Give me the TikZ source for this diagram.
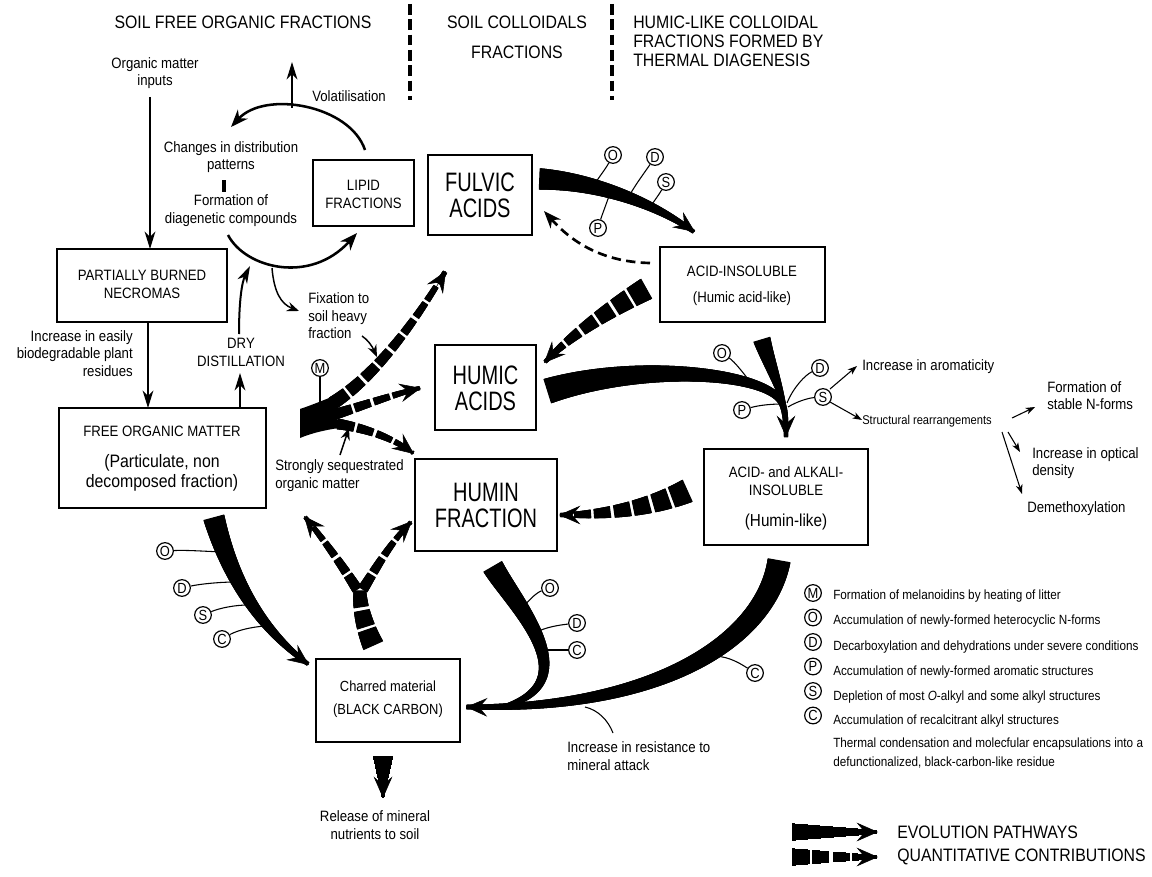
\documentclass[tikz,border=0pt]{standalone}
\usepackage{fontspec}
\setmainfont{Liberation Sans}[FakeStretch=0.88]
\newfontfamily\bigf{Liberation Sans}[FakeStretch=0.75]
\usetikzlibrary{arrows.meta,decorations.markings,calc}
\def\dashper{15}
\def\dashon{12}
\newcommand\tprmark[3]{%
  \pgfmathsetmacro{\tpd}{\pgfkeysvalueof{/pgf/decoration/mark info/distance from start}}%
  \pgfmathsetmacro{\tph}{#1+(#2-#1)*\tpd/\pgfdecoratedpathlength}%
  \pgfmathtruncatemacro{\tpok}{or(#3==0,mod(\tpd,\dashper)<\dashon)}%
  \ifnum\tpok>0 \fill[black] (-0.6pt,-\tph pt) rectangle (0.6pt,\tph pt);\fi
}
\newcommand\tpr[7]{%
  \path[decorate,decoration={markings,mark=between positions 0 and 1 step 0.4pt with {\tprmark{#1}{#2}{#3}}}] #4 .. controls #5 and #6 .. #7;}
\newcommand\tptip[2]{\draw[bigtip] ($#2!0.3!#1$) -- #2;}
\begin{document}
\begin{tikzpicture}[x=0.75pt,y=-0.75pt,
  lab/.style={font=\fontsize{11.25}{13.2}\selectfont,inner sep=0pt,align=center},
  hdr/.style={font=\fontsize{13.5}{14.25}\selectfont,inner sep=0pt,align=center},
  bigl/.style={font=\bigf\fontsize{20}{19.5}\selectfont,inner sep=0pt,align=center},
  leg/.style={font=\fontsize{10}{12}\selectfont,inner sep=0pt,anchor=west},
  sm/.style={font=\fontsize{9.5}{11}\selectfont,inner sep=0pt,anchor=west},
  bx/.style={draw,line width=1.1pt,inner sep=0pt},
  mk/.style={draw,circle,line width=0.9pt,inner sep=0pt,minimum size=12.5pt,font=\fontsize{11}{11}\selectfont,fill=white},
  mkline/.style={line width=0.8pt},
  thinarr/.style={line width=1.5pt,-{Stealth[length=13pt,width=8pt,inset=4pt]}},
  arcarr/.style={line width=1.9pt,-{Stealth[length=13pt,width=10pt,inset=4pt]}},
  smarr/.style={line width=0.8pt,-{Stealth[length=7pt,width=5pt,inset=2pt]}},
  medarr/.style={line width=1.1pt,-{Stealth[length=9pt,width=7pt,inset=3pt]}},
  bigtip/.style={line width=0.4pt,-{Stealth[length=16pt,width=14pt,inset=6pt]}},
]
\fill[white] (0,0) rectangle (1152,877);
\useasboundingbox (0,0) rectangle (1152,877);
% headers
\node[hdr] (h1) at (243,22) {SOIL FREE ORGANIC FRACTIONS};
\node[hdr] (h2) at (517,22) {SOIL COLLOIDALS};
\node[hdr] (h2b) at (517,52) {FRACTIONS};
\node[hdr,align=left,anchor=west] (h3) at (633,41) {HUMIC-LIKE COLLOIDAL\\FRACTIONS FORMED BY\\THERMAL DIAGENESIS};
\draw[line width=2.5pt,dash pattern=on 8pt off 3.5pt] (410,4) -- (410,100);
\draw[line width=2.5pt,dash pattern=on 8pt off 3.5pt] (612,4) -- (612,100);
% boxes
\node[bx,minimum width=127.5pt,minimum height=54.75pt] (necro) at (142,285.5) {};
\node[bx,minimum width=155.25pt,minimum height=75pt] (fom) at (162.5,458) {};
\node[bx,minimum width=75.75pt,minimum height=49.5pt] (lipid) at (363.5,193) {};
\node[bx,minimum width=78pt,minimum height=60pt] (fulvic) at (480,195) {};
\node[bx,minimum width=75.75pt,minimum height=63.75pt] (humic) at (485.5,387.5) {};
\node[bx,minimum width=106.5pt,minimum height=69pt] (humin) at (486,505) {};
\node[bx,minimum width=123.75pt,minimum height=56.25pt] (acidins) at (742.5,284.5) {};
\node[bx,minimum width=123pt,minimum height=72pt] (aai) at (786,497) {};
\node[bx,minimum width=108pt,minimum height=62.25pt] (charred) at (388,700.5) {};
% box texts
\node[lab,font=\fontsize{11.25}{13.5}\selectfont] (necrot) at (142,284) {PARTIALLY BURNED\\NECROMAS};
\node[lab] (fomt1) at (162,431) {FREE ORGANIC MATTER};
\node[lab,font=\fontsize{13.5}{15}\selectfont] (fomt2) at (162,473) {(Particulate, non\\decomposed fraction)};
\node[lab,font=\fontsize{11.25}{13.5}\selectfont] (lipt) at (363.5,194) {LIPID\\FRACTIONS};
\node[bigl] (fult) at (480,195) {FULVIC\\ACIDS};
\node[bigl] (humt) at (485.5,388.5) {HUMIC\\ACIDS};
\node[bigl] (hmnt) at (486,505) {HUMIN\\FRACTION};
\node[lab] (ait1) at (742,271) {ACID-INSOLUBLE};
\node[lab] (ait2) at (742,299) {(Humic acid-like)};
\node[lab,font=\fontsize{11.25}{13.5}\selectfont] (aait1) at (786,481) {ACID- and ALKALI-\\INSOLUBLE};
\node[lab,font=\fontsize{13}{15}\selectfont] (aait2) at (786,522) {(Humin-like)};
\node[lab,font=\fontsize{11}{17}\selectfont] (chrt) at (388,699.5) {Charred material\\(BLACK CARBON)};
% free labels
\node[lab] (inp) at (155,73) {Organic matter\\inputs};
\node[lab] (chg) at (231,157) {Changes in distribution\\patterns};
\fill (222,180) rectangle (226,192);
\node[lab] (form) at (231,210.5) {Formation of\\diagenetic compounds};
\node[lab] (vol) at (349,96) {Volatilisation};
\node[lab,align=right,anchor=east] (easy) at (133,353.5) {Increase in easily\\biodegradable plant\\residues};
\node[lab] (dry) at (241,352.5) {DRY\\DISTILLATION};
\node[lab,align=left,anchor=west] (fix) at (308,316) {Fixation to\\soil heavy\\fraction};
\node[lab,align=left,anchor=west] (seq) at (275,475.5) {Strongly sequestrated\\organic matter};
\node[lab,anchor=west] (arom) at (862,367) {Increase in aromaticity};
\node[sm] (struct) at (862,421) {Structural rearrangements};
\node[lab,align=left,anchor=west] (nform) at (1047,395.5) {Formation of\\stable N-forms};
\node[lab,align=left,anchor=west] (opt) at (1032,463) {Increase in optical\\density};
\node[lab,anchor=west] (demeth) at (1027,509) {Demethoxylation};
\node[lab,align=left,anchor=west] (resist) at (567,756) {Increase in resistance to\\mineral attack};
\node[lab] (rel) at (375,825) {Release of mineral\\nutrients to soil};
% legend texts
\node[leg] (l1) at (833,596) {Formation of melanoidins by heating of litter};
\node[leg] (l2) at (833,621) {Accumulation of newly-formed heterocyclic N-forms};
\node[leg] (l3) at (833,647) {Decarboxylation and dehydrations under severe conditions};
\node[leg] (l4) at (833,672) {Accumulation of newly-formed aromatic structures};
\node[leg] (l5) at (833,697) {Depletion of most \textit{O}-alkyl and some alkyl structures};
\node[leg] (l6) at (833,721) {Accumulation of recalcitrant alkyl structures};
\node[leg] (l7) at (833,744) {Thermal condensation and molecfular encapsulations into a};
\node[leg] (l8) at (833,763) {defunctionalized, black-carbon-like residue};
\node[hdr,anchor=west] (ev) at (897,832) {EVOLUTION PATHWAYS};
\node[hdr,anchor=west] (qc) at (897,857) {QUANTITATIVE CONTRIBUTIONS};
% marker nodes
\node[mk] (o1) at (613,155) {O};
\node[mk] (d1) at (655,157) {D};
\node[mk] (s1) at (666,182) {S};
\node[mk] (p1) at (598,228) {P};
\node[mk] (o2) at (722,353) {O};
\node[mk] (p2) at (742,410) {P};
\node[mk] (d2) at (820,368) {D};
\node[mk] (s2) at (823,397) {S};
\node[mk] (c3) at (755,673) {C};
\node[mk] (o4) at (550,588) {O};
\node[mk] (d4) at (577,623) {D};
\node[mk] (c4) at (577,650) {C};
\node[mk] (o5) at (165,551) {O};
\node[mk] (d5) at (182,588) {D};
\node[mk] (s5) at (203,615) {S};
\node[mk] (c5) at (222,639) {C};
\node[mk] (m) at (320,368) {M};
\node[mk] (lm) at (813,593) {M};
\node[mk] (lo) at (813,617.5) {O};
\node[mk] (ld) at (813,642) {D};
\node[mk] (lp) at (813,666.5) {P};
\node[mk] (ls) at (813,691) {S};
\node[mk] (lc) at (813,715.5) {C};
% marker lines
\draw[mkline] (o1) .. controls (605,170) and (598,178) .. (593,187);
\draw[mkline] (d1) .. controls (645,172) and (635,185) .. (628,198);
\draw[mkline] (s1) .. controls (660,193) and (655,200) .. (650,207);
\draw[mkline] (p1) .. controls (602,215) and (606,205) .. (610,193);
\draw[mkline] (o2) .. controls (735,362) and (745,375) .. (754,387);
\draw[mkline] (p2) .. controls (760,405) and (772,404) .. (783,404);
\draw[mkline] (d2) .. controls (805,375) and (793,388) .. (787,403);
\draw[mkline] (s2) .. controls (808,398) and (796,402) .. (788,407);
\draw[mkline] (c3) .. controls (735,660) and (725,656) .. (712,656);
\draw[mkline] (o4) .. controls (538,592) and (530,598) .. (522,609);
\draw[mkline] (d4) .. controls (560,625) and (545,627) .. (535,633);
\draw[mkline] (c4) .. controls (562,650) and (550,650) .. (540,650);
\draw[mkline] (o5) .. controls (185,550) and (200,551) .. (222,552);
\draw[mkline] (d5) .. controls (200,584) and (220,582) .. (236,582);
\draw[mkline] (s5) .. controls (220,608) and (235,605) .. (248,605);
\draw[mkline] (c5) .. controls (238,630) and (252,627) .. (265,626);
\draw[mkline] (m) -- (320,404);
\draw[mkline] (613,733) .. controls (608,720) and (598,710) .. (585,707);
% thin arrows
\draw[thinarr] (150,97) -- (150,249);
\draw[thinarr] (148,322) -- (148,408);
\draw[thinarr] (240,408) -- (240,373);
\draw[thinarr] (239,334) .. controls (239,300) and (242,282) .. (250,266);
\draw[thinarr] (292,108) -- (292,62);
\draw[arcarr] (365,150) .. controls (350,105) and (265,90) .. (231,127);
\draw[arcarr] (228,235) .. controls (245,268) and (310,285) .. (357,233);
\draw[medarr] (272,268) .. controls (274,292) and (281,304) .. (299,311);
\draw[medarr] (362,336) .. controls (368,340) and (372,346) .. (377,357);
\draw[medarr] (340,455) -- (349,428);
\draw[line width=2pt,dash pattern=on 7pt off 4pt,-{Stealth[length=13pt,width=10pt,inset=4pt]}] (650,263) .. controls (600,262) and (570,240) .. (544,211);
\draw[smarr] (830,389) -- (857,366);
\draw[smarr] (830,402) -- (862,420);
\draw[smarr] (1012,418) -- (1035,407);
\draw[smarr] (1008,432) -- (1020,452);
\draw[smarr] (1002,432) -- (1022,494);
% evolution pathways (solid tapered)
\tpr{8}{1.5}{0}{(540,179)}{(590,181)}{(650,200)}{(694,232)}
\tptip{(650,200)}{(695,232)}
\tpr{9.5}{2.5}{0}{(548,391)}{(640,362)}{(768,372)}{(782,403)}
\tpr{2.5}{1.5}{0}{(782,403)}{(785,410)}{(786,420)}{(786,437)}
\tptip{(786,420)}{(786,437)}
\tpr{6.5}{1.5}{0}{(762,340)}{(768,360)}{(777,380)}{(784,405)}
\tpr{8.6}{1.6}{0}{(779,561)}{(765,640)}{(660,710)}{(467,707)}
\tptip{(660,710)}{(466,707)}
\tpr{8}{1.6}{0}{(493,567)}{(515,605)}{(590,682)}{(503,707)}
\tpr{8}{1.5}{0}{(214,518)}{(228,570)}{(255,625)}{(308,664)}
\tptip{(255,625)}{(309,665)}
\tpr{7.5}{1}{0}{(383,757)}{(383,770)}{(383,785)}{(383,797)}
\tptip{(383,785)}{(383,798)}
\tpr{6.5}{1.5}{0}{(793,832)}{(820,832)}{(850,832)}{(877,832)}
\tptip{(850,832)}{(878,832)}
% quantitative contributions (dashed tapered)
\tpr{8.5}{1.5}{1}{(646,289)}{(612,308)}{(572,334)}{(545,362)}
\tptip{(572,334)}{(544,363)}
\tpr{9}{1.5}{1}{(687,491)}{(645,510)}{(600,515)}{(560,515)}
\tptip{(600,515)}{(559,515)}
\tpr{8}{4.5}{1}{(373,645)}{(364,625)}{(359,605)}{(360,586)}
\tpr{4}{1.5}{1}{(357,589)}{(345,570)}{(328,545)}{(305,517)}
\tptip{(328,545)}{(304,516)}
\tpr{4}{1.5}{1}{(363,589)}{(375,570)}{(390,543)}{(411,522)}
\tptip{(390,543)}{(412,521)}
\fill (300,409) .. controls (312,405) and (324,400) .. (334,396) -- (339,428) .. controls (325,430) and (312,433) .. (300,438) -- cycle;
\tpr{5}{1.8}{1}{(333,403)}{(372,378)}{(410,330)}{(445,272)}
\tptip{(410,330)}{(446,271)}
\tpr{4}{1.5}{1}{(336,414)}{(365,405)}{(395,394)}{(420,388)}
\tptip{(395,394)}{(421,388)}
\tpr{4}{1.5}{1}{(338,424)}{(365,428)}{(393,438)}{(413,453)}
\tptip{(393,438)}{(414,454)}
\tpr{6.5}{1.5}{1}{(793,857)}{(820,857)}{(850,857)}{(877,857)}
\tptip{(850,857)}{(878,857)}
\end{tikzpicture}
\end{document}
